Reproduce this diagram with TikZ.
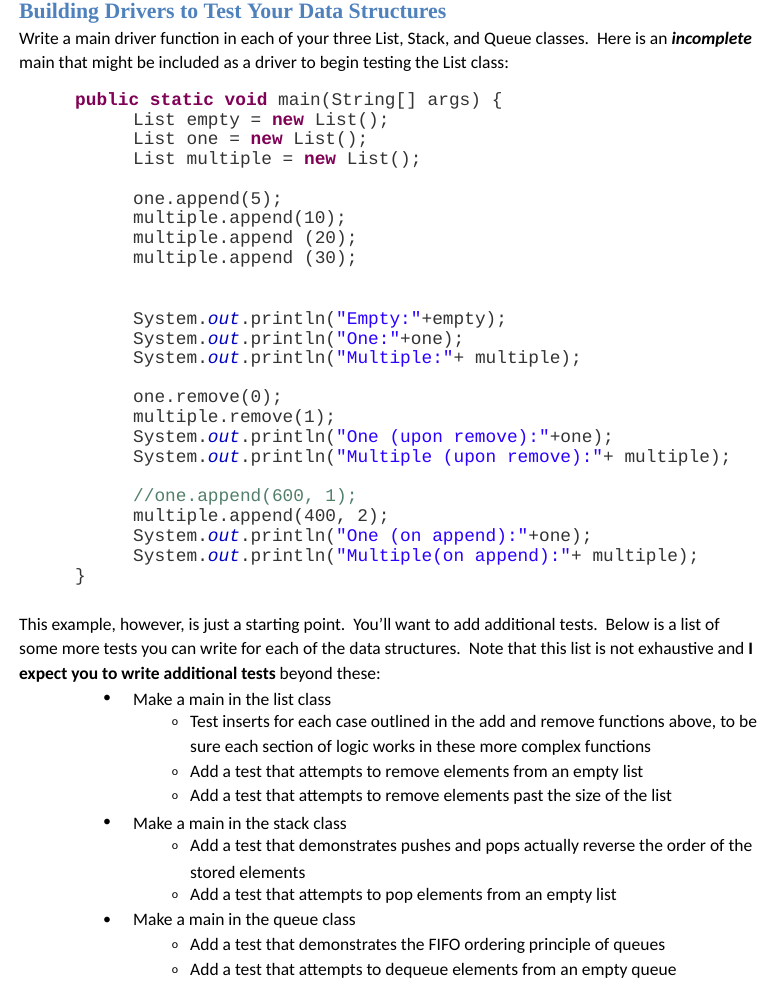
\documentclass[tikz,border=0pt]{standalone}
\usepackage{fontspec}
\setmainfont{Carlito}
\newfontfamily\codef{Liberation Mono}
\newfontfamily\titlef{Liberation Serif}
\definecolor{ttl}{RGB}{79,129,189}
\definecolor{kw}{RGB}{127,0,85}
\definecolor{str}{RGB}{42,0,255}
\definecolor{fld}{RGB}{0,0,192}
\definecolor{cmt}{RGB}{63,127,95}
\newcommand{\K}[1]{\textcolor{kw}{\bfseries #1}}
\newcommand{\St}[1]{\textcolor{str}{#1}}
\newcommand{\Ou}{\textcolor{fld}{\itshape out}}
\begin{document}
\begin{tikzpicture}[x=1pt,y=-1pt,
  txt/.style={anchor=west,inner sep=0,font=\fontsize{17.5}{20}\selectfont},
  code/.style={anchor=west,inner sep=0,font=\codef\fontsize{17.8}{20}\selectfont,text=black!80},
  dot/.style={anchor=center,inner sep=0,font=\fontsize{16}{18}\selectfont}]
\useasboundingbox (0,0) rectangle (783,995);
\node[anchor=west,inner sep=0,text=ttl,font=\titlef\bfseries\fontsize{22}{24}\selectfont,xscale=0.99] (title) at (19,13) {Building Drivers to Test Your Data Structures};
\node[txt] (p1) at (19,40) {Write a main driver function in each of your three List, Stack, and Queue classes.\ \ Here is an \textbf{\itshape incomplete}};
\node[txt] (p2) at (19,64) {main that might be included as a driver to begin testing the List class:};
\node[code] (c0) at (75,101) {\K{public static void} main(String[] args) \{};
\node[code] (c1) at (133,121) {List empty = \K{new} List();};
\node[code] (c2) at (133,140) {List one = \K{new} List();};
\node[code] (c3) at (133,160) {List multiple = \K{new} List();};
\node[code] (c4) at (133,200) {one.append(5);};
\node[code] (c5) at (133,219) {multiple.append(10);};
\node[code] (c6) at (133,239) {multiple.append (20);};
\node[code] (c7) at (133,259) {multiple.append (30);};
\node[code] (c8) at (133,320) {System.\Ou.println(\St{"Empty:"}+empty);};
\node[code] (c9) at (133,340) {System.\Ou.println(\St{"One:"}+one);};
\node[code] (c10) at (133,359) {System.\Ou.println(\St{"Multiple:"}+ multiple);};
\node[code] (c11) at (133,398) {one.remove(0);};
\node[code] (c12) at (133,418) {multiple.remove(1);};
\node[code] (c13) at (133,438) {System.\Ou.println(\St{"One (upon remove):"}+one);};
\node[code] (c14) at (133,458) {System.\Ou.println(\St{"Multiple (upon remove):"}+ multiple);};
\node[code,text=cmt!70!gray] (c15) at (133,497) {//one.append(600, 1);};
\node[code] (c16) at (133,517) {multiple.append(400, 2);};
\node[code] (c17) at (133,537) {System.\Ou.println(\St{"One (on append):"}+one);};
\node[code] (c18) at (133,557) {System.\Ou.println(\St{"Multiple(on append):"}+ multiple);};
\node[code] (c19) at (75,577) {\}};
\node[txt] (q1) at (19,626) {This example, however, is just a starting point.\ \ You'll want to add additional tests.\ \ Below is a list of};
\node[txt] (q2) at (19,650) {some more tests you can write for each of the data structures.\ \ Note that this list is not exhaustive and \textbf{I}};
\node[txt] (q3) at (19,675) {\textbf{expect you to write additional tests} beyond these:};
\foreach \y/\t in {699/Make a main in the list class, 823/Make a main in the stack class, 921/Make a main in the queue class}{
  \node[dot] at (107,\y) {•};
  \node[txt] at (133,\y) {\t};}
\foreach \y/\t in {723/{Test inserts for each case outlined in the add and remove functions above, to be},
  773/Add a test that attempts to remove elements from an empty list,
  797/Add a test that attempts to remove elements past the size of the list,
  847/Add a test that demonstrates pushes and pops actually reverse the order of the,
  896/Add a test that attempts to pop elements from an empty list,
  946/Add a test that demonstrates the FIFO ordering principle of queues,
  971/Add a test that attempts to dequeue elements from an empty queue}{
  \node[dot,font=\fontsize{12}{14}\selectfont] at (175,\y) {o};
  \node[txt] at (190,\y) {\t};}
\node[txt] (s1) at (190,748) {sure each section of logic works in these more complex functions};
\node[txt] (s2) at (190,872) {stored elements};
\end{tikzpicture}
\end{document}
